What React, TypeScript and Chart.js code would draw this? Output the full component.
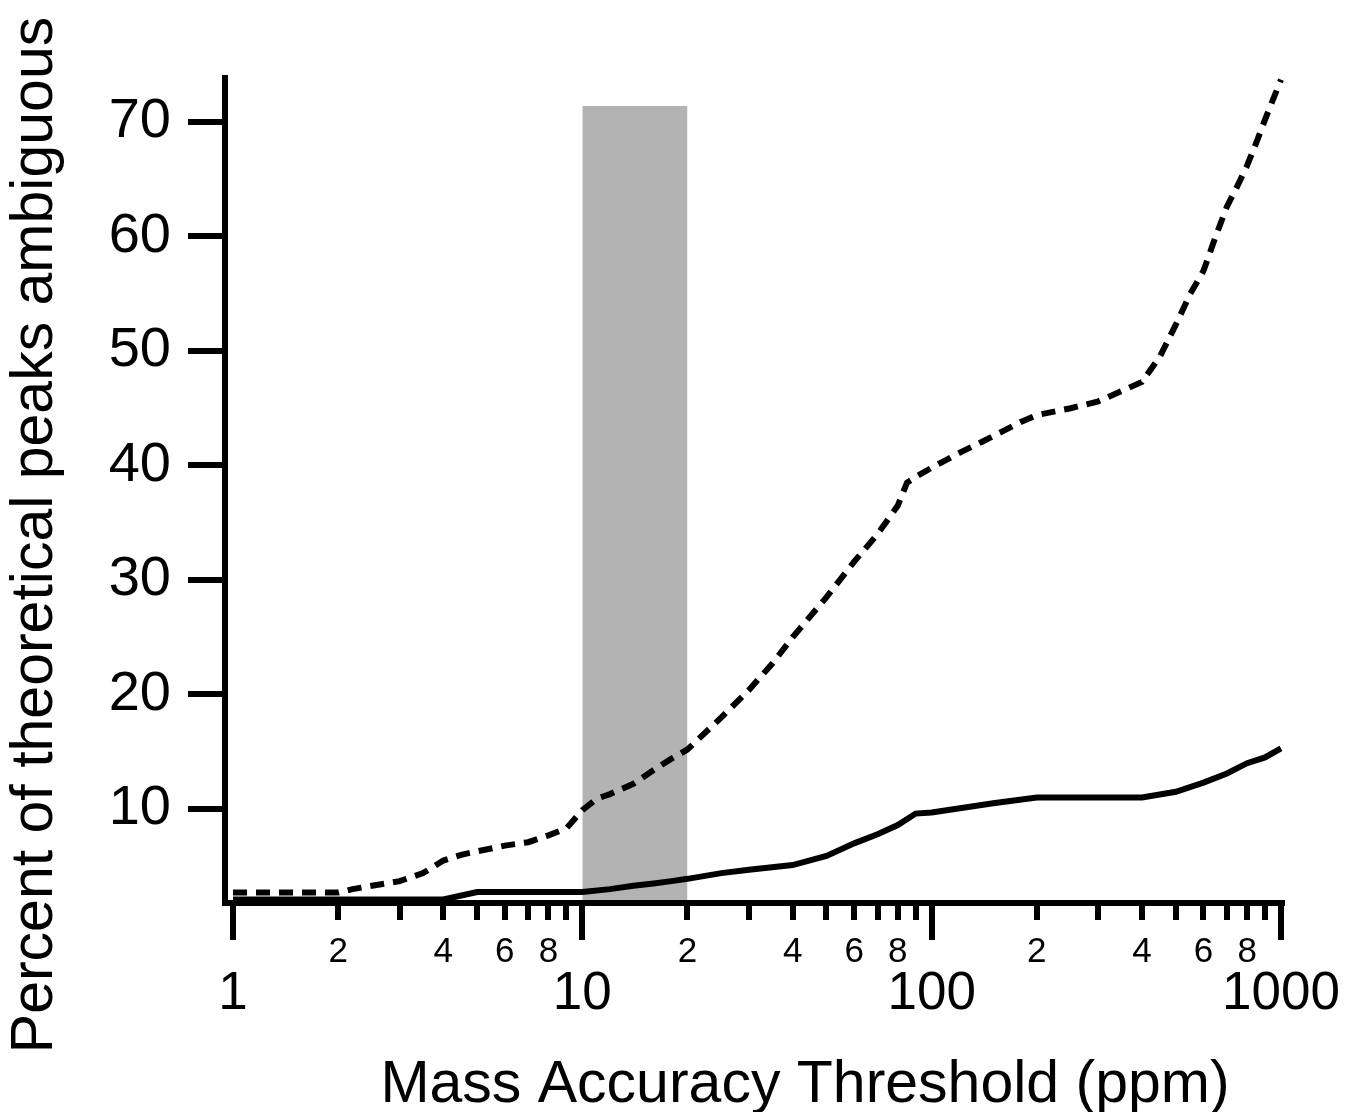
import React, { useEffect, useRef } from 'react';
import { Chart, registerables } from 'chart.js';

Chart.register(...registerables);

// ---- data ----
const SOLID_X = [1, 2, 3, 4, 5, 6, 7, 8, 9, 10, 12, 14, 16, 18, 20, 25, 30, 40, 50, 60, 70, 80, 90, 100, 150, 200, 300, 400, 500, 600, 700, 800, 900, 1000];
const SOLID_Y = [2.1, 2.1, 2.1, 2.1, 2.75, 2.75, 2.75, 2.75, 2.75, 2.75, 3.0, 3.3, 3.5, 3.7, 3.9, 4.4, 4.7, 5.1, 5.9, 7.0, 7.8, 8.6, 9.6, 9.7, 10.5, 11.0, 11.0, 11.0, 11.5, 12.3, 13.1, 14.0, 14.5, 15.3];

const DASHED_X = [1, 1.5, 2, 2.2, 2.5, 3, 3.5, 4, 4.5, 5, 6, 7, 8, 9, 10, 11, 12, 14, 16, 18, 20, 25, 30, 35, 40, 50, 60, 70, 80, 85, 90, 100, 120, 140, 160, 180, 200, 250, 300, 350, 400, 450, 500, 550, 600, 650, 700, 750, 800, 850, 900, 950, 1000];
const DASHED_Y = [2.7, 2.7, 2.7, 3.0, 3.3, 3.7, 4.4, 5.5, 6.0, 6.3, 6.8, 7.1, 7.7, 8.3, 9.9, 10.9, 11.3, 12.2, 13.4, 14.4, 15.2, 18.0, 20.4, 22.7, 25.0, 28.5, 31.6, 34.0, 36.5, 38.5, 39.0, 39.8, 41.1, 42.1, 43.0, 43.8, 44.4, 45.0, 45.6, 46.5, 47.3, 49.5, 52.3, 55.0, 57.0, 60.0, 62.6, 64.4, 66.2, 68.2, 70.2, 72.0, 73.7];

const BAND_X = [10, 20];
const BAND_TOP = [71.4, 71.4];

const Y_TICKS = [10, 20, 30, 40, 50, 60, 70];
const X_MAJOR_TICKS = [1, 10, 100, 1000];
const X_MAJOR_LABELS = ['1', '10', '100', '1000'];
const X_MINOR_TICKS = [2, 3, 4, 5, 6, 7, 8, 9, 20, 30, 40, 50, 60, 70, 80, 90, 200, 300, 400, 500, 600, 700, 800, 900];
const X_MINOR_LABELED = [2, 4, 6, 8, 20, 40, 60, 80, 200, 400, 600, 800];
const X_MINOR_LABELS = ['2', '4', '6', '8', '2', '4', '6', '8', '2', '4', '6', '8'];

const X_TITLE = 'Mass Accuracy Threshold (ppm)';
const Y_TITLE = 'Percent of theoretical peaks ambiguous';

const X_MIN = 0.9487;
const X_MAX = 1006.6;
const Y_MIN = 1.79;
const Y_MAX = 73.84;

const FAMILY = '"Liberation Sans", Arial, sans-serif';

const titlePlugin = {
  id: 'axisTitlesCustom',
  afterDraw(chart: any) {
    const { ctx, chartArea } = chart;
    ctx.save();
    ctx.fillStyle = '#000';
    ctx.font = `59px ${FAMILY}`;
    ctx.textAlign = 'center';
    ctx.textBaseline = 'alphabetic';
    ctx.fillText(X_TITLE, chartArea.left + 580, chartArea.bottom + 199);
    ctx.translate(chartArea.left - 173, chartArea.top + 457);
    ctx.rotate(-Math.PI / 2);
    ctx.fillText(Y_TITLE, 0, 0);
    ctx.restore();
  },
};

export default function App() {
  const ref = useRef<HTMLCanvasElement>(null);

  useEffect(() => {
    const allXTicks = [...X_MAJOR_TICKS, ...X_MINOR_TICKS].sort((a, b) => a - b);
    const chart = new Chart(ref.current as HTMLCanvasElement, {
      type: 'line',
      data: {
        datasets: [
          {
            label: 'dashed',
            data: DASHED_X.map((x, i) => ({ x, y: DASHED_Y[i] })),
            borderColor: '#000',
            borderWidth: 6,
            borderDash: [14, 9],
            borderCapStyle: 'butt',
            pointRadius: 0,
            tension: 0,
            fill: false,
            clip: false,
            xAxisID: 'x',
            yAxisID: 'y',
            order: 1,
          },
          {
            label: 'solid',
            data: SOLID_X.map((x, i) => ({ x, y: SOLID_Y[i] })),
            borderColor: '#000',
            borderWidth: 6,
            pointRadius: 0,
            tension: 0,
            fill: false,
            clip: false,
            xAxisID: 'x',
            yAxisID: 'y',
            order: 2,
          },
          {
            label: 'band',
            data: BAND_X.map((x, i) => ({ x, y: BAND_TOP[i] })),
            borderColor: 'rgba(0,0,0,0)',
            borderWidth: 0,
            backgroundColor: '#b3b3b3',
            pointRadius: 0,
            tension: 0,
            fill: 'start',
            xAxisID: 'x',
            yAxisID: 'y',
            order: 3,
          },
        ],
      },
      options: {
        responsive: false,
        animation: false,
        events: [],
        layout: { padding: { top: 78, right: 63, bottom: 0, left: 0 } },
        plugins: {
          legend: { display: false },
          tooltip: { enabled: false },
          title: { display: false },
        },
        scales: {
          x: {
            type: 'logarithmic',
            position: 'bottom',
            weight: 0,
            min: X_MIN,
            max: X_MAX,
            afterBuildTicks: (s: any) => {
              s.ticks = allXTicks.map((v) => ({ value: v, major: X_MAJOR_TICKS.includes(v) }));
            },
            afterFit: (s: any) => {
              s.height = 60;
            },
            border: { display: true, width: 6, color: '#000', z: 1 },
            grid: {
              display: true,
              drawOnChartArea: false,
              drawTicks: true,
              tickLength: 37,
              tickWidth: 6,
              lineWidth: 6,
              color: '#000',
              tickColor: '#000',
              tickBorderDash: (ctx: any) =>
                ctx.tick && X_MAJOR_TICKS.includes(ctx.tick.value) ? [] : [14, 200],
            },
            ticks: {
              autoSkip: false,
              maxRotation: 0,
              minRotation: 0,
              padding: 0,
              color: '#000',
              font: { family: FAMILY, size: 35, lineHeight: 0.686 },
              callback: (v: any) => {
                const idx = X_MINOR_LABELED.indexOf(Number(v));
                return idx >= 0 ? X_MINOR_LABELS[idx] : '';
              },
            },
          },
          x2: {
            type: 'logarithmic',
            position: 'bottom',
            weight: 1,
            min: X_MIN,
            max: X_MAX,
            afterBuildTicks: (s: any) => {
              s.ticks = X_MAJOR_TICKS.map((v) => ({ value: v, major: true }));
            },
            afterFit: (s: any) => {
              s.height = 149;
            },
            border: { display: false },
            grid: { display: false, drawTicks: false, drawOnChartArea: false },
            ticks: {
              autoSkip: false,
              maxRotation: 0,
              minRotation: 0,
              padding: 5,
              color: '#000',
              font: { family: FAMILY, size: 53, lineHeight: 1 },
              callback: (v: any) => {
                const idx = X_MAJOR_TICKS.indexOf(Number(v));
                return idx >= 0 ? X_MAJOR_LABELS[idx] : '';
              },
            },
          },
          y: {
            type: 'linear',
            position: 'left',
            min: Y_MIN,
            max: Y_MAX,
            afterBuildTicks: (s: any) => {
              s.ticks = Y_TICKS.map((v) => ({ value: v }));
            },
            afterFit: (s: any) => {
              s.width = 225;
            },
            border: { display: true, width: 6, color: '#000', z: 1 },
            grid: {
              display: true,
              drawOnChartArea: false,
              drawTicks: true,
              tickLength: 37,
              tickWidth: 6,
              lineWidth: 6,
              color: '#000',
              tickColor: '#000',
            },
            ticks: {
              padding: 17,
              color: '#000',
              font: { family: FAMILY, size: 56 },
              callback: (v: any) => String(v),
            },
          },
        },
      } as any,
      plugins: [titlePlugin],
    });
    return () => chart.destroy();
  }, []);

  return (
    <div style={{ position: 'fixed', left: 0, top: 0, width: 1345, height: 1112, background: '#fff' }}>
      <canvas ref={ref} width={1345} height={1112} style={{ display: 'block' }} />
    </div>
  );
}
